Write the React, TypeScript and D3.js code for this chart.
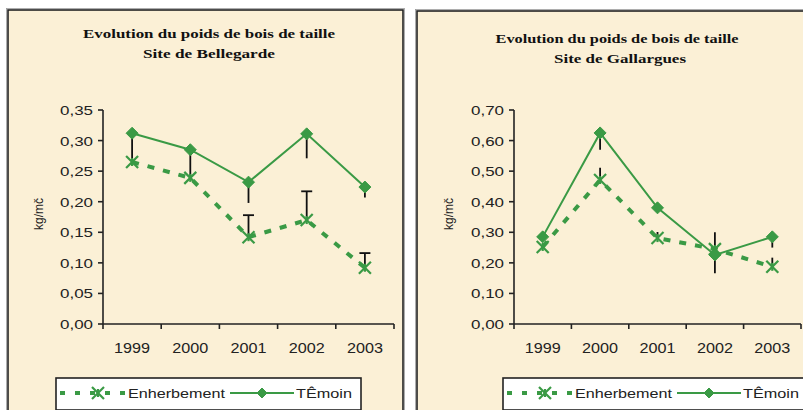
import React from "react";
import * as d3 from "d3";

const years = ["1999", "2000", "2001", "2002", "2003"];

const bellegardeEnherbement = [0.265, 0.239, 0.142, 0.17, 0.092];
const bellegardeTemoin = [0.312, 0.285, 0.232, 0.311, 0.224];
const bellegardeEnhErrPlus = [0, 0, 0.036, 0.047, 0.024];
const bellegardeTemErrMinus = [0.048, 0.045, 0.034, 0.04, 0.017];
const bellegardeTicks = [0, 0.05, 0.1, 0.15, 0.2, 0.25, 0.3, 0.35];

const gallarguesEnherbement = [0.252, 0.471, 0.281, 0.245, 0.187];
const gallarguesTemoin = [0.285, 0.625, 0.38, 0.226, 0.285];
const gallarguesEnhErrPlus = [0, 0.04, 0.02, 0.055, 0.03];
const gallarguesTemErrMinus = [0, 0.055, 0, 0.06, 0.035];
const gallarguesTicks = [0, 0.1, 0.2, 0.3, 0.4, 0.5, 0.6, 0.7];

const titleLine1 = "Evolution du poids de bois de taille";
const seriesNames = ["Enherbement", "TÊmoin"];
const yTitle = "kg/mč";

const GREEN = "#3a9a45";
const BG = "#fbf0d6";

type PanelProps = {
  px: number; py: number; pw: number; ph: number;
  plotX0: number; plotX1: number; plotY0: number; plotY1: number;
  yMax: number; ticks: number[];
  title2: string; t1y: number; t2y: number; tcx: number; t1w: number; t2w: number;
  enh: number[]; tem: number[]; enhPlus: number[]; temMinus: number[];
  caps: boolean;
  legX: number; legW: number; legY: number;
  yTitleX: number; yTitleY: number;
};

function Star({ x, y }: { x: number; y: number }) {
  const a = 6;
  return (
    <g stroke={GREEN} strokeWidth={2.2}>
      <line x1={x - a} y1={y - a} x2={x + a} y2={y + a} />
      <line x1={x - a} y1={y + a} x2={x + a} y2={y - a} />
      <line x1={x} y1={y - 4} x2={x} y2={y + 4} />
    </g>
  );
}

function Diamond({ x, y, r = 6 }: { x: number; y: number; r?: number }) {
  return <path d={`M${x},${y - r}L${x + r},${y}L${x},${y + r}L${x - r},${y}Z`} fill={GREEN} stroke={GREEN} strokeWidth={1} />;
}

function Panel(p: PanelProps) {
  const x = d3.scaleBand<string>().domain(years).range([p.plotX0, p.plotX1]);
  const y = d3.scaleLinear().domain([0, p.yMax]).range([p.plotY1, p.plotY0]);
  const cx = (d: string) => (x(d) as number) + x.bandwidth() / 2;
  const line = d3.line<number>().x((_, i) => cx(years[i])).y((v) => y(v));
  const fmt = (v: number) => v.toFixed(2).replace(".", ",");
  const bounds = years.map((d) => x(d) as number).concat([p.plotX1]);
  const capW = 5.5;
  const tickFont = "Liberation Sans, Arial, sans-serif";
  return (
    <g>
      <rect x={p.px} y={p.py} width={p.pw} height={p.ph} fill={BG} stroke="#222" strokeWidth={1.6} />
      <rect x={p.px - 1.5} y={p.py - 1.5} width={p.pw + 3} height={p.ph + 3} fill="none" stroke="#999" strokeWidth={0.8} />
      <text x={p.tcx} y={p.t1y} textAnchor="middle" fontFamily="Liberation Serif, Times New Roman, serif" fontWeight="bold" fontSize={12.5} fill="#111" textLength={p.t1w} lengthAdjust="spacingAndGlyphs">{titleLine1}</text>
      <text x={p.tcx + (p.tcx > 400 ? 3 : 0)} y={p.t2y} textAnchor="middle" fontFamily="Liberation Serif, Times New Roman, serif" fontWeight="bold" fontSize={12.5} fill="#111" textLength={p.t2w} lengthAdjust="spacingAndGlyphs">{p.title2}</text>

      {/* y axis */}
      <line x1={p.plotX0} y1={p.plotY0} x2={p.plotX0} y2={p.plotY1} stroke="#222" strokeWidth={1.6} />
      {p.ticks.map((t) => (
        <g key={t}>
          <line x1={p.plotX0 - 5} x2={p.plotX0} y1={y(t)} y2={y(t)} stroke="#222" strokeWidth={1.6} />
          <text x={p.plotX0 - 10} y={y(t) + 5} textAnchor="end" fontFamily={tickFont} fontSize={13.5} fill="#222" textLength={33} lengthAdjust="spacingAndGlyphs">{fmt(t)}</text>
        </g>
      ))}
      {/* x axis */}
      <line x1={p.plotX0} y1={p.plotY1} x2={p.plotX1} y2={p.plotY1} stroke="#222" strokeWidth={1.6} />
      {bounds.map((b, i) => (
        <line key={i} x1={b} x2={b} y1={p.plotY1} y2={p.plotY1 + 5} stroke="#222" strokeWidth={1.6} />
      ))}
      {years.map((d) => (
        <text key={d} x={cx(d)} y={p.plotY1 + 29} textAnchor="middle" fontFamily={tickFont} fontSize={14} fill="#222" textLength={36} lengthAdjust="spacingAndGlyphs">{d}</text>
      ))}
      <text transform={`translate(${p.yTitleX},${p.yTitleY}) rotate(-90)`} textAnchor="middle" fontFamily={tickFont} fontSize={12} fill="#222">{yTitle}</text>

      {/* series lines */}
      <path d={line(p.tem) || ""} fill="none" stroke={GREEN} strokeWidth={2} />
      <path d={line(p.enh) || ""} fill="none" stroke={GREEN} strokeWidth={4} strokeDasharray="7 9" />

      {/* error bars */}
      {years.map((d, i) =>
        p.temMinus[i] > 0 ? (
          <line key={"tm" + d} x1={cx(d)} x2={cx(d)} y1={y(p.tem[i])} y2={y(p.tem[i] - p.temMinus[i])} stroke="#111" strokeWidth={1.8} />
        ) : null
      )}
      {years.map((d, i) =>
        p.enhPlus[i] > 0 ? (
          <g key={"ep" + d} stroke="#111" strokeWidth={1.8}>
            <line x1={cx(d)} x2={cx(d)} y1={y(p.enh[i])} y2={y(p.enh[i] + p.enhPlus[i])} />
            {p.caps ? <line x1={cx(d) - capW} x2={cx(d) + capW} y1={y(p.enh[i] + p.enhPlus[i])} y2={y(p.enh[i] + p.enhPlus[i])} /> : null}
          </g>
        ) : null
      )}

      {/* markers */}
      {years.map((d, i) => <Star key={"s" + d} x={cx(d)} y={y(p.enh[i])} />)}
      {years.map((d, i) => <Diamond key={"d" + d} x={cx(d)} y={y(p.tem[i])} />)}

      {/* legend */}
      <rect x={p.legX} y={p.legY} width={p.legW} height={32} fill="#fff" stroke="#222" strokeWidth={1.6} />
      <line x1={p.legX + 4} x2={p.legX + 70} y1={p.legY + 15} y2={p.legY + 15} stroke={GREEN} strokeWidth={4} strokeDasharray="5 10" />
      <Star x={p.legX + 42} y={p.legY + 15} />
      <text x={p.legX + 72} y={p.legY + 20} fontFamily={tickFont} fontSize={12.5} fill="#222" textLength={97} lengthAdjust="spacingAndGlyphs">{seriesNames[0]}</text>
      <line x1={p.legX + 174} x2={p.legX + 238} y1={p.legY + 15} y2={p.legY + 15} stroke={GREEN} strokeWidth={2} />
      <Diamond x={p.legX + 206} y={p.legY + 15} r={5} />
      <text x={p.legX + 240} y={p.legY + 20} fontFamily={tickFont} fontSize={12.5} fill="#222" textLength={56} lengthAdjust="spacingAndGlyphs">{seriesNames[1]}</text>
    </g>
  );
}

export default function App() {
  return (
    <svg width={803} height={410} style={{ position: "absolute", left: 0, top: 0, background: "#fff" }}>
      <Panel
        px={8} py={10} pw={395} ph={420}
        plotX0={103} plotX1={394} plotY0={110} plotY1={324}
        yMax={0.35} ticks={bellegardeTicks}
        title2="Site de Bellegarde" t1y={38} t2y={58} tcx={209} t1w={252} t2w={132}
        enh={bellegardeEnherbement} tem={bellegardeTemoin}
        enhPlus={bellegardeEnhErrPlus} temMinus={bellegardeTemErrMinus}
        caps={true}
        legX={56} legW={305} legY={378}
        yTitleX={43} yTitleY={214}
      />
      <Panel
        px={417} py={11} pw={400} ph={420}
        plotX0={514} plotX1={801} plotY0={110} plotY1={324}
        yMax={0.7} ticks={gallarguesTicks}
        title2="Site de Gallargues" t1y={43} t2y={63} tcx={617} t1w={243} t2w={132}
        enh={gallarguesEnherbement} tem={gallarguesTemoin}
        enhPlus={gallarguesEnhErrPlus} temMinus={gallarguesTemErrMinus}
        caps={false}
        legX={503} legW={310} legY={378}
        yTitleX={453} yTitleY={214}
      />
    </svg>
  );
}
